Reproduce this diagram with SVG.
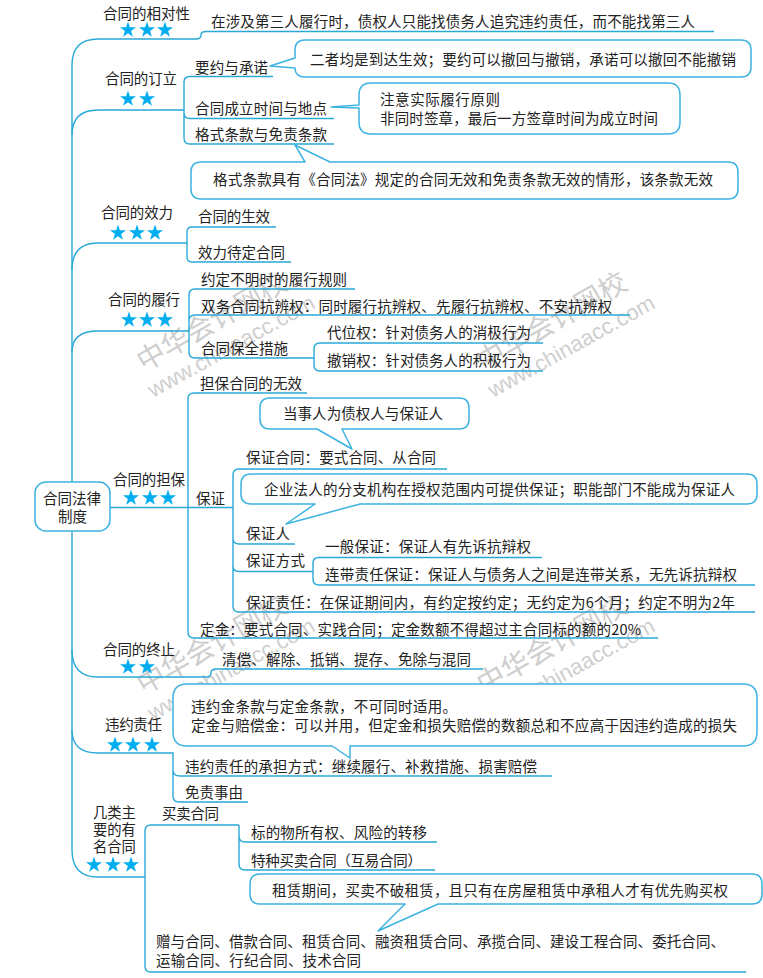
<svg xmlns="http://www.w3.org/2000/svg" width="763" height="978" viewBox="0 0 763 978">
<style>
text{font-family:"Noto Sans CJK SC","Noto Sans",sans-serif;font-size:14.5px;fill:#222}
.wm{fill:#8c8c8c;opacity:.42;font-size:28px}
.wu{fill:#8c8c8c;opacity:.42;font-family:"Liberation Sans",sans-serif;font-size:22px}
.l{fill:none;stroke:#2aa9d8;stroke-width:1.4}
.c{fill:#fff;stroke:#3cb3e0;stroke-width:1.5;stroke-linejoin:round}
.s{fill:#00aeef}
</style>
<defs><polygon id="star" class="s" points="0,-8.400 1.900,-2.700 8,-2.700 3.100,1 4.900,6.800 0,3.300 -4.900,6.800 -3.100,1 -8,-2.700 -1.900,-2.700"/></defs>
<rect width="763" height="978" fill="#fff"/>
<g id="watermarks">
<text class="wm" transform="translate(144,372) rotate(-30)">中华会计网校</text>
<text class="wu" transform="translate(153,398) rotate(-29)">www.chinaacc.com</text>
<text class="wm" transform="translate(484,372) rotate(-30)">中华会计网校</text>
<text class="wu" transform="translate(493,398) rotate(-29)">www.chinaacc.com</text>
<text class="wm" transform="translate(144,695) rotate(-30)">中华会计网校</text>
<text class="wu" transform="translate(153,721) rotate(-29)">www.chinaacc.com</text>
<text class="wm" transform="translate(484,695) rotate(-30)">中华会计网校</text>
<text class="wu" transform="translate(493,721) rotate(-29)">www.chinaacc.com</text>
</g>
<g id="connectors">
<path class="l" d="M72 482V65Q72 39 98 39H196Q201 39 201 35Q201 31.500 206 31.500H714"/>
<path class="l" d="M72 135Q72 110 98 110H184"/>
<path class="l" d="M273 76.500H190Q184 76.500 184 82V138Q184 144 190 144H334M184 113Q184 118.500 190 118.500H334"/>
<path class="l" d="M72 270Q72 243 98 243H187"/>
<path class="l" d="M276 227H192Q187 227 187 232V257Q187 262 192 262H291"/>
<path class="l" d="M72 352Q72 331 98 331H189"/>
<path class="l" d="M355 289H195Q189 289 189 295V352Q189 358 195 358H314M189 321Q189 315 195 315H630"/>
<path class="l" d="M543 343H320Q314 343 314 349V365Q314 371 320 371H543"/>
<path class="l" d="M110 507.500H233"/>
<path class="l" d="M307 393H194Q188 393 188 399V632Q188 638 194 638H658"/>
<path class="l" d="M447 469H239Q233 469 233 475V606Q233 612 239 612H755M233 538Q233 544 239 544H295M233 566Q233 571.500 239 571.500H313"/>
<path class="l" d="M542 557.500H319Q313 557.500 313 563V579Q313 585 319 585H755"/>
<path class="l" d="M72 531V650Q72 677 98 677H206Q211 677 211 673Q211 669 216 669H483"/>
<path class="l" d="M72 650V850Q72 877 98 877H145"/>
<path class="l" d="M72 730Q72 753 98 753H173V770Q173 776 180 776H552M173 770V796Q173 802 179 802H248"/>
<path class="l" d="M239 825H151Q145 825 145 831V966Q145 972 151 972H746M239 825V836Q239 842 245 842H437M239 836V864Q239 870 245 870H435"/>
</g>
<g id="root"><rect class="c" x="35" y="482" width="75" height="49" rx="11"/><text x="43" y="504">合同法律<tspan x="58" dy="18">制度</tspan></text></g>
<g id="node-relativity"><text x="103" y="19" textLength="87">合同的相对性</text><use href="#star" x="128" y="30"/><use href="#star" x="147" y="30"/><use href="#star" x="165" y="30"/><text x="211" y="27" textLength="484">在涉及第三人履行时，债权人只能找债务人追究违约责任，而不能找第三人</text></g>
<g id="node-formation"><text x="105" y="84" textLength="72">合同的订立</text><use href="#star" x="128" y="99"/><use href="#star" x="147" y="99"/><text x="195" y="73" textLength="73">要约与承诺</text><text x="195" y="114" textLength="132">合同成立时间与地点</text><text x="195" y="140" textLength="132">格式条款与免责条款</text></g>
<g id="callout-offer"><path class="c" d="M305 40H741Q751 40 751 50V67Q751 77 741 77H305Q295 77 295 68L270 66L295 58V50Q295 40 305 40Z"/><text x="310" y="65" textLength="426">二者均是到达生效；要约可以撤回与撤销，承诺可以撤回不能撤销</text></g>
<g id="callout-time"><path class="c" d="M371 83H668Q680 83 680 95V122Q680 134 668 134H371Q359 134 359 122V108L331 107L359 105V95Q359 83 371 83Z"/><text x="380" y="105" textLength="120">注意实际履行原则</text><text x="380" y="124" textLength="278">非同时签章，最后一方签章时间为成立时间</text></g>
<g id="callout-standard"><path class="c" d="M201 162H305L295 145L330 162H728Q738 162 738 172V189Q738 199 728 199H201Q191 199 191 189V172Q191 162 201 162Z"/><text x="213" y="185" textLength="500">格式条款具有《合同法》规定的合同无效和免责条款无效的情形，该条款无效</text></g>
<g id="node-validity"><text x="101" y="218" textLength="72">合同的效力</text><use href="#star" x="118" y="233"/><use href="#star" x="137" y="233"/><use href="#star" x="155" y="233"/><text x="198" y="222" textLength="72">合同的生效</text><text x="198" y="258" textLength="87">效力待定合同</text></g>
<g id="node-performance"><text x="108" y="305" textLength="72">合同的履行</text><use href="#star" x="129" y="320"/><use href="#star" x="147" y="320"/><use href="#star" x="165" y="320"/><text x="201" y="285" textLength="146">约定不明时的履行规则</text><text x="201" y="312" textLength="411">双务合同抗辨权：同时履行抗辨权、先履行抗辨权、不安抗辨权</text><text x="201" y="354" textLength="87">合同保全措施</text><text x="327" y="338" textLength="204">代位权：针对债务人的消极行为</text><text x="327" y="366" textLength="204">撤销权：针对债务人的积极行为</text></g>
<g id="node-guarantee"><text x="113" y="485" textLength="72">合同的担保</text><use href="#star" x="131" y="498"/><use href="#star" x="150" y="498"/><use href="#star" x="168" y="498"/><text x="200" y="389" textLength="102">担保合同的无效</text><text x="196" y="504" textLength="29">保证</text><text x="246" y="463" textLength="190">保证合同：要式合同、从合同</text><text x="246" y="539" textLength="44">保证人</text><text x="246" y="566" textLength="59">保证方式</text><text x="325" y="552" textLength="206">一般保证：保证人有先诉抗辩权</text><text x="325" y="580" textLength="412">连带责任保证：保证人与债务人之间是连带关系，无先诉抗辩权</text><text x="246" y="608" textLength="489">保证责任：在保证期间内，有约定按约定；无约定为6个月；约定不明为2年</text><text x="200" y="635" textLength="441">定金：要式合同、实践合同；定金数额不得超过主合同标的额的20%</text></g>
<g id="callout-party"><path class="c" d="M270 398H459Q469 398 469 408V419Q469 429 459 429H342L352 449L317 429H270Q260 429 260 419V408Q260 398 270 398Z"/><text x="283" y="419" textLength="160">当事人为债权人与保证人</text></g>
<g id="callout-branch"><path class="c" d="M251 474H747Q757 474 757 484V494Q757 504 747 504H360L286 524L315 504H251Q241 504 241 494V484Q241 474 251 474Z"/><text x="264" y="495" textLength="471">企业法人的分支机构在授权范围内可提供保证；职能部门不能成为保证人</text></g>
<g id="node-termination"><text x="103" y="655" textLength="72">合同的终止</text><use href="#star" x="128" y="667"/><use href="#star" x="147" y="667"/><text x="222" y="665" textLength="249">清偿、解除、抵销、提存、免除与混同</text></g>
<g id="node-liability"><text x="105" y="730" textLength="57">违约责任</text><use href="#star" x="115" y="745"/><use href="#star" x="133" y="745"/><use href="#star" x="152" y="745"/><text x="185" y="772" textLength="352">违约责任的承担方式：继续履行、补救措施、损害赔偿</text><text x="185" y="798" textLength="58">免责事由</text></g>
<g id="callout-penalty"><path class="c" d="M187 684H743Q757 684 757 698V732Q757 746 743 746H350V758L332 746H187Q173 746 173 732V698Q173 684 187 684Z"/><text x="191" y="712" textLength="266">违约金条款与定金条款，不可同时适用。</text><text x="191" y="731" textLength="546">定金与赔偿金：可以并用，但定金和损失赔偿的数额总和不应高于因违约造成的损失</text></g>
<g id="node-named"><text x="93" y="818" style="font-size:14.3px">几类主<tspan x="93" dy="17">要的有</tspan><tspan x="93" dy="17">名合同</tspan></text><use href="#star" x="94" y="865"/><use href="#star" x="113" y="865"/><use href="#star" x="131" y="865"/><text x="162" y="819" textLength="57">买卖合同</text><text x="251" y="838" textLength="176">标的物所有权、风险的转移</text><text x="251" y="866" textLength="171">特种买卖合同（互易合同）</text><text x="156" y="947" textLength="569">赠与合同、借款合同、租赁合同、融资租赁合同、承揽合同、建设工程合同、委托合同、</text><text x="156" y="966" textLength="205">运输合同、行纪合同、技术合同</text></g>
<g id="callout-lease"><path class="c" d="M260 874H752Q762 874 762 884V894Q762 904 752 904H438L378 931L405 904H260Q250 904 250 894V884Q250 874 260 874Z"/><text x="272" y="896" textLength="456">租赁期间，买卖不破租赁，且只有在房屋租赁中承租人才有优先购买权</text></g>
</svg>
